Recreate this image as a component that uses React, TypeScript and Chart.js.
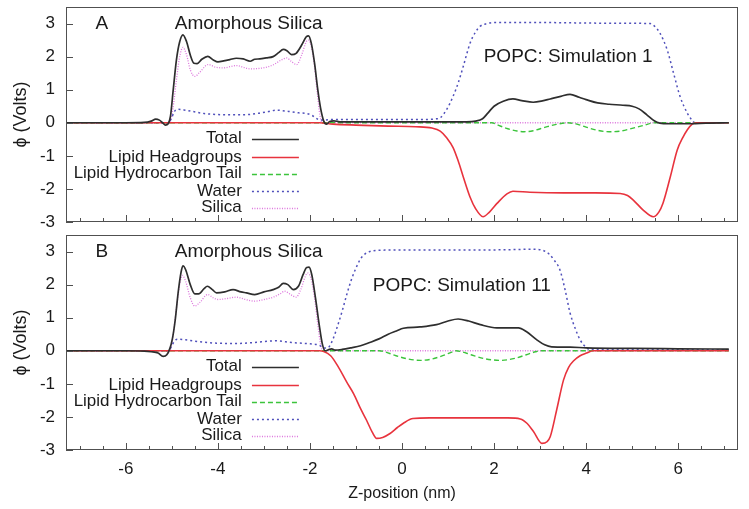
import React, { useEffect, useRef } from 'react';
import { Chart, registerables } from 'chart.js';
Chart.register(...registerables);

type P = [number, number];

// ---------- data ----------
const SERIES_NAMES = ['Total', 'Lipid Headgroups', 'Lipid Hydrocarbon Tail', 'Water', 'Silica'];
const X_TICKS = [-6, -4, -2, 0, 2, 4, 6];
const Y_TICKS = [-3, -2, -1, 0, 1, 2, 3];

const A_TOTAL: P[] = [[-7.3,0],[-6.5,0],[-6.0,0],[-5.6,0.01],[-5.45,0.05],[-5.35,0.11],[-5.27,0.08],[-5.2,0.0],[-5.14,-0.07],[-5.08,-0.03],[-5.03,0.2],[-4.97,1.0],[-4.9,1.91],[-4.83,2.45],[-4.76,2.66],[-4.68,2.45],[-4.6,2.05],[-4.52,1.8],[-4.45,1.79],[-4.35,1.92],[-4.22,2.01],[-4.1,1.9],[-4.0,1.84],[-3.85,1.88],[-3.74,1.91],[-3.6,1.95],[-3.45,1.93],[-3.3,1.86],[-3.2,1.92],[-3.09,1.93],[-2.95,1.96],[-2.8,2.0],[-2.68,2.12],[-2.58,2.22],[-2.5,2.18],[-2.4,2.06],[-2.3,2.1],[-2.18,2.35],[-2.08,2.6],[-2.03,2.63],[-1.97,2.4],[-1.9,1.8],[-1.83,1.0],[-1.77,0.45],[-1.7,0.05],[-1.64,-0.04],[-1.57,0.04],[-1.48,0.06],[-1.35,0.03],[-0.5,0.03],[0.5,0.03],[1.4,0.03],[1.6,0.05],[1.75,0.12],[1.87,0.3],[2.0,0.5],[2.2,0.65],[2.41,0.72],[2.6,0.67],[2.85,0.62],[3.05,0.66],[3.22,0.72],[3.45,0.8],[3.65,0.86],[3.85,0.77],[4.0,0.7],[4.25,0.6],[4.5,0.56],[4.8,0.53],[5.0,0.5],[5.15,0.42],[5.32,0.24],[5.48,0.06],[5.6,-0.01],[5.8,-0.03],[6.3,-0.03],[6.6,-0.01],[7.1,0]];
const A_HEAD: P[] = [[-7.3,0],[-2.0,0],[-1.8,0],[-1.5,-0.04],[-1.0,-0.07],[-0.3,-0.1],[0.3,-0.12],[0.65,-0.16],[0.83,-0.25],[0.97,-0.45],[1.11,-0.75],[1.22,-1.15],[1.33,-1.63],[1.48,-2.25],[1.6,-2.6],[1.76,-2.84],[1.9,-2.7],[2.07,-2.43],[2.28,-2.15],[2.41,-2.07],[2.78,-2.1],[3.5,-2.12],[4.2,-2.12],[4.74,-2.14],[4.9,-2.2],[5.02,-2.33],[5.24,-2.64],[5.46,-2.84],[5.58,-2.7],[5.67,-2.43],[5.83,-1.63],[5.98,-0.82],[6.1,-0.45],[6.2,-0.21],[6.3,-0.05],[6.4,0],[7.1,0]];
const A_TAIL: P[] = [[-7.3,0],[1.95,0],[2.1,-0.08],[2.3,-0.18],[2.5,-0.25],[2.65,-0.27],[2.85,-0.24],[3.1,-0.14],[3.35,-0.05],[3.6,0],[3.8,-0.04],[4.0,-0.13],[4.25,-0.23],[4.5,-0.27],[4.75,-0.25],[5.0,-0.17],[5.25,-0.08],[5.5,0],[7.1,0]];
const A_WATER: P[] = [[-7.3,0],[-5.1,0],[-5.02,0.1],[-4.95,0.33],[-4.88,0.41],[-4.7,0.38],[-4.54,0.34],[-4.3,0.28],[-4.03,0.25],[-3.7,0.24],[-3.45,0.24],[-3.1,0.29],[-2.9,0.34],[-2.73,0.38],[-2.5,0.35],[-2.25,0.3],[-2.07,0.28],[-1.95,0.22],[-1.82,0.1],[-1.7,0.08],[-1.5,0.1],[-0.5,0.1],[0.5,0.1],[0.75,0.12],[0.83,0.15],[0.97,0.4],[1.11,0.8],[1.22,1.2],[1.33,1.7],[1.48,2.41],[1.6,2.75],[1.7,2.92],[1.85,3.0],[1.98,3.03],[3.0,3.03],[4.5,3.01],[5.39,3.0],[5.5,2.9],[5.6,2.72],[5.76,2.21],[5.9,1.5],[6.04,0.8],[6.2,0.29],[6.3,0.08],[6.37,0.0],[7.1,0]];
const A_SILICA: P[] = [[-7.3,0],[-5.05,0],[-4.98,0.4],[-4.9,1.3],[-4.83,2.0],[-4.76,2.28],[-4.68,2.05],[-4.6,1.6],[-4.5,1.4],[-4.4,1.52],[-4.21,1.76],[-4.05,1.68],[-3.88,1.66],[-3.6,1.73],[-3.45,1.68],[-3.3,1.63],[-3.02,1.66],[-2.8,1.75],[-2.62,1.9],[-2.51,1.96],[-2.4,1.85],[-2.29,1.76],[-2.18,2.05],[-2.08,2.45],[-2.03,2.5],[-1.97,2.3],[-1.9,1.7],[-1.84,0.9],[-1.78,0.2],[-1.73,0],[7.1,0]];

const B_TOTAL: P[] = [[-7.3,0],[-6.0,0],[-5.6,-0.01],[-5.45,-0.03],[-5.3,-0.07],[-5.19,-0.17],[-5.11,-0.12],[-5.04,0.08],[-4.99,0.35],[-4.93,0.9],[-4.86,1.8],[-4.8,2.38],[-4.76,2.57],[-4.7,2.45],[-4.6,2.0],[-4.5,1.72],[-4.42,1.72],[-4.3,1.88],[-4.23,1.95],[-4.12,1.85],[-4.03,1.75],[-3.85,1.78],[-3.67,1.85],[-3.5,1.78],[-3.38,1.75],[-3.2,1.7],[-3.0,1.78],[-2.8,1.85],[-2.68,1.92],[-2.58,2.04],[-2.48,2.0],[-2.36,1.85],[-2.25,1.95],[-2.15,2.3],[-2.07,2.52],[-2.02,2.53],[-1.96,2.3],[-1.88,1.6],[-1.8,0.8],[-1.73,0.2],[-1.67,0.0],[-1.6,0.03],[-1.53,0.06],[-1.45,0.02],[-1.3,0.04],[-1.1,0.09],[-0.9,0.15],[-0.7,0.25],[-0.5,0.36],[-0.3,0.5],[-0.12,0.6],[0.03,0.68],[0.39,0.72],[0.75,0.79],[1.0,0.9],[1.22,0.96],[1.45,0.9],[1.7,0.79],[2.06,0.69],[2.53,0.69],[2.7,0.58],[2.93,0.33],[3.1,0.18],[3.25,0.12],[3.65,0.11],[4.0,0.09],[5.0,0.07],[6.0,0.06],[7.1,0.05]];
const B_HEAD: P[] = [[-7.3,0],[-1.8,0],[-1.7,-0.02],[-1.55,-0.15],[-1.4,-0.45],[-1.2,-0.95],[-1.05,-1.3],[-0.9,-1.75],[-0.77,-2.1],[-0.65,-2.45],[-0.55,-2.65],[-0.42,-2.62],[-0.26,-2.5],[-0.1,-2.32],[0.03,-2.19],[0.24,-2.05],[0.6,-2.03],[1.5,-2.03],[2.3,-2.03],[2.57,-2.06],[2.72,-2.2],[2.86,-2.45],[3.04,-2.8],[3.15,-2.75],[3.22,-2.6],[3.36,-1.79],[3.51,-0.88],[3.62,-0.5],[3.73,-0.3],[3.87,-0.15],[4.01,-0.07],[4.15,0],[7.1,0]];
const B_TAIL: P[] = [[-7.3,0],[-0.5,0],[-0.35,-0.04],[-0.15,-0.14],[0.1,-0.24],[0.4,-0.29],[0.65,-0.25],[0.9,-0.14],[1.1,-0.03],[1.17,0],[1.3,-0.03],[1.5,-0.12],[1.8,-0.24],[2.15,-0.29],[2.45,-0.23],[2.7,-0.12],[2.9,-0.03],[3.0,0],[7.1,0]];
const B_WATER: P[] = [[-7.3,0],[-5.1,0],[-5.02,0.1],[-4.95,0.28],[-4.88,0.35],[-4.7,0.33],[-4.5,0.29],[-4.03,0.23],[-3.6,0.22],[-3.2,0.25],[-2.9,0.29],[-2.73,0.3],[-2.4,0.25],[-2.0,0.21],[-1.8,0.17],[-1.68,0.08],[-1.6,0.1],[-1.5,0.35],[-1.4,0.75],[-1.3,1.2],[-1.2,1.7],[-1.1,2.15],[-1.0,2.5],[-0.9,2.78],[-0.8,2.93],[-0.7,3.0],[-0.5,3.04],[0.5,3.05],[2.0,3.05],[2.9,3.07],[3.07,3.03],[3.2,2.92],[3.3,2.75],[3.43,2.45],[3.55,1.8],[3.65,1.15],[3.77,0.65],[3.87,0.33],[4.0,0.1],[4.1,0.03],[7.1,0.03]];
const B_SILICA: P[] = [[-7.3,0],[-5.05,0],[-4.98,0.4],[-4.9,1.3],[-4.83,2.0],[-4.77,2.28],[-4.7,2.1],[-4.6,1.6],[-4.5,1.35],[-4.4,1.45],[-4.22,1.7],[-4.1,1.6],[-4.0,1.55],[-3.8,1.58],[-3.6,1.62],[-3.4,1.55],[-3.2,1.5],[-3.0,1.55],[-2.8,1.62],[-2.65,1.72],[-2.55,1.8],[-2.42,1.7],[-2.3,1.62],[-2.2,1.85],[-2.1,2.25],[-2.05,2.35],[-1.98,2.2],[-1.9,1.6],[-1.83,0.8],[-1.77,0.2],[-1.72,0],[7.1,0]];

// ---------- styles & layout ----------
const FONT = '"Liberation Sans", Arial, Helvetica, sans-serif';
const TEXT = '#1a1a1a';
const FRAME = '#505050';
const STYLES = [
  { color: '#2e2e2e', width: 1.7, dash: [] as number[] },
  { color: '#e8333d', width: 1.6, dash: [] as number[] },
  { color: '#3cc43c', width: 1.4, dash: [5, 3] },
  { color: '#5050bb', width: 1.5, dash: [2, 3] },
  { color: '#dd77dd', width: 1.3, dash: [1, 1.5] },
];
const X_MIN = -7.3, X_MAX = 7.3, Y_MIN = -3, Y_MAX = 3.5;
const LEG_TEXT_X = -3.48, LEG_LINE_X0 = -3.26, LEG_LINE_X1 = -2.24;
const LEG_ROW_Y = [-0.48, -1.03, -1.54, -2.06, -2.57];

interface Panel {
  letter: string; series: P[][]; popc: string; popcX: number; popcY: number;
  showX: boolean; padTop: number; xAxisH: number;
}
const PANEL_A: Panel = { letter: 'A', series: [A_TOTAL, A_HEAD, A_TAIL, A_WATER, A_SILICA], popc: 'POPC: Simulation 1', popcX: 3.61, popcY: 2.01, showX: false, padTop: 7, xAxisH: 8 };
const PANEL_B: Panel = { letter: 'B', series: [B_TOTAL, B_HEAD, B_TAIL, B_WATER, B_SILICA], popc: 'POPC: Simulation 11', popcX: 1.3, popcY: 1.98, showX: true, padTop: 5, xAxisH: 59 };

function decor(p: Panel) {
  return {
    id: 'decor' + p.letter,
    afterDraw(chart: any) {
      const { ctx, chartArea: ca } = chart;
      const xs = chart.scales.x, ys = chart.scales.y;
      ctx.save();
      // frame
      ctx.strokeStyle = FRAME; ctx.lineWidth = 1; ctx.setLineDash([]);
      ctx.strokeRect(ca.left + 0.5, ca.top + 0.5, ca.right - ca.left - 1, ca.bottom - ca.top - 1);
      // inward ticks
      ctx.beginPath();
      for (let v = -7; v <= 7.001; v += 0.5) {
        const px = Math.round(xs.getPixelForValue(v)) + 0.5;
        const major = X_TICKS.includes(v);
        ctx.moveTo(px, ca.bottom); ctx.lineTo(px, ca.bottom - (major ? 7 : 4));
      }
      for (const v of Y_TICKS) {
        const py = Math.round(ys.getPixelForValue(v)) + 0.5;
        ctx.moveTo(ca.left, py); ctx.lineTo(ca.left + 7, py);
      }
      ctx.stroke();
      // annotations
      ctx.fillStyle = TEXT; ctx.textBaseline = 'middle';
      ctx.font = '19px ' + FONT; ctx.textAlign = 'center';
      ctx.fillText(p.letter, xs.getPixelForValue(-6.52), ys.getPixelForValue(3));
      ctx.fillText('Amorphous Silica', xs.getPixelForValue(-3.33), ys.getPixelForValue(3));
      ctx.fillText(p.popc, xs.getPixelForValue(p.popcX), ys.getPixelForValue(p.popcY));
      // legend
      ctx.font = '17px ' + FONT; ctx.textAlign = 'right';
      const tx = xs.getPixelForValue(LEG_TEXT_X);
      const l0 = xs.getPixelForValue(LEG_LINE_X0), l1 = xs.getPixelForValue(LEG_LINE_X1);
      SERIES_NAMES.forEach((name, i) => {
        const py = ys.getPixelForValue(LEG_ROW_Y[i]);
        ctx.fillStyle = TEXT;
        ctx.fillText(name, tx, py);
        ctx.strokeStyle = STYLES[i].color; ctx.lineWidth = STYLES[i].width;
        ctx.setLineDash(STYLES[i].dash);
        ctx.beginPath(); ctx.moveTo(l0, Math.round(py) + 0.5); ctx.lineTo(l1, Math.round(py) + 0.5); ctx.stroke();
      });
      ctx.restore();
    },
  };
}

function zeroPad(s: any) {
  s.paddingTop = 0; s.paddingBottom = 0; s.paddingLeft = 0; s.paddingRight = 0;
}

function makeChart(canvas: HTMLCanvasElement, p: Panel) {
  return new Chart(canvas, {
    type: 'line',
    data: {
      datasets: p.series.map((s, i) => ({
        label: SERIES_NAMES[i],
        data: s.map(([x, y]) => ({ x, y })),
        borderColor: STYLES[i].color,
        borderWidth: STYLES[i].width,
        borderDash: STYLES[i].dash,
        pointRadius: 0,
        fill: false,
        cubicInterpolationMode: 'monotone' as const,
      })),
    },
    options: {
      responsive: false,
      animation: false,
      devicePixelRatio: 1,
      events: [],
      layout: { padding: { left: 0, right: 11, top: p.padTop, bottom: 0 } },
      plugins: { legend: { display: false }, tooltip: { enabled: false } },
      scales: {
        x: {
          type: 'linear', min: X_MIN, max: X_MAX,
          grid: { display: false, drawTicks: false }, border: { display: false },
          afterBuildTicks: (s: any) => { s.ticks = X_TICKS.map((v) => ({ value: v })); },
          afterFit: (s: any) => { s.height = p.xAxisH; zeroPad(s); },
          ticks: { display: p.showX, padding: 9, color: TEXT, font: { size: 17, family: FONT }, maxRotation: 0, autoSkip: false },
          title: { display: p.showX, text: 'Z-position (nm)', color: TEXT, font: { size: 16, family: FONT }, padding: { top: 0, bottom: 6 } },
        },
        y: {
          type: 'linear', min: Y_MIN, max: Y_MAX,
          grid: { display: false, drawTicks: false }, border: { display: false },
          afterBuildTicks: (s: any) => { s.ticks = Y_TICKS.map((v) => ({ value: v })); },
          afterFit: (s: any) => { s.width = 66; zeroPad(s); },
          ticks: { padding: 11, color: TEXT, font: { size: 17, family: FONT } },
          title: { display: true, text: 'ϕ (Volts)', color: TEXT, font: { size: 18, family: FONT }, padding: { top: 10, bottom: 0 } },
        },
      },
    } as any,
    plugins: [decor(p)],
  });
}

export default function App() {
  const refA = useRef<HTMLCanvasElement>(null);
  const refB = useRef<HTMLCanvasElement>(null);
  useEffect(() => {
    const a = makeChart(refA.current!, PANEL_A);
    const b = makeChart(refB.current!, PANEL_B);
    return () => { a.destroy(); b.destroy(); };
  }, []);
  return (
    <div style={{ position: 'fixed', left: 0, top: 0, width: 749, height: 509, background: '#fff' }}>
      <canvas ref={refA} width={749} height={230} style={{ position: 'absolute', left: 0, top: 0, width: 749, height: 230 }} />
      <canvas ref={refB} width={749} height={279} style={{ position: 'absolute', left: 0, top: 230, width: 749, height: 279 }} />
    </div>
  );
}
